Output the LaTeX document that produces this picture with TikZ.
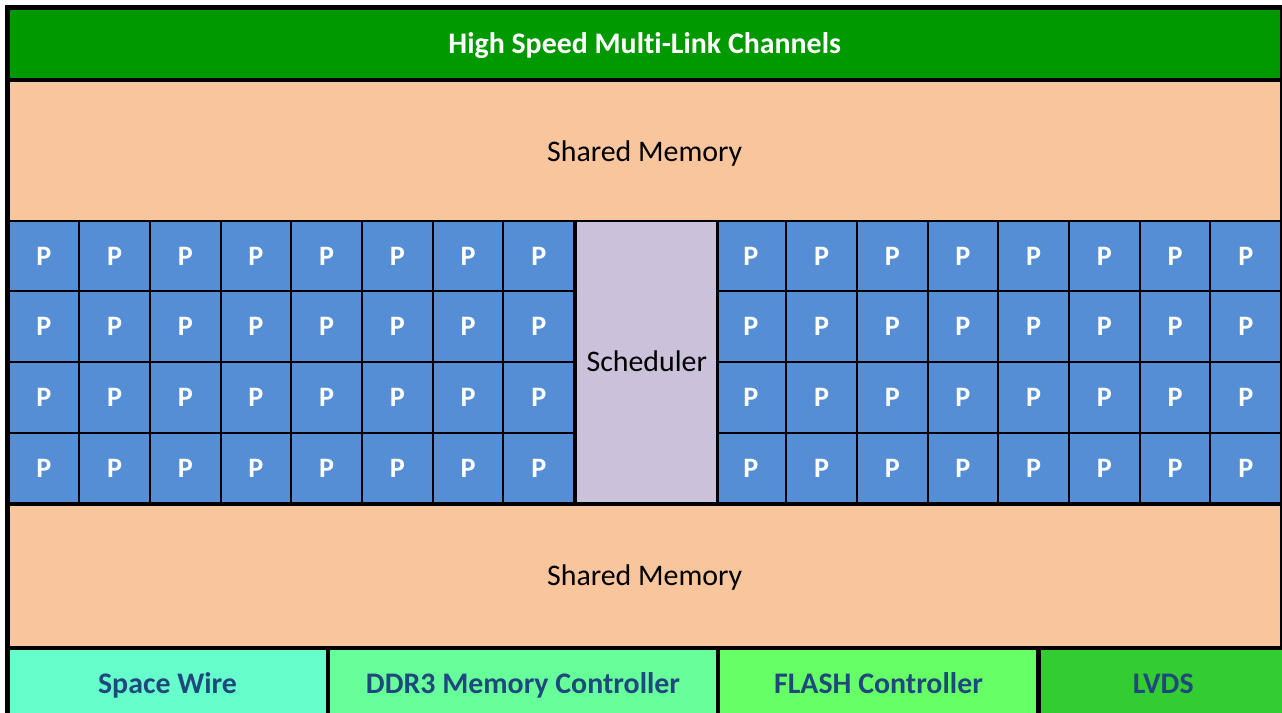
\documentclass[tikz,border=0pt]{standalone}
\usepackage{fontspec}
\setmainfont{Carlito}[Ligatures=NoCommon]
\usetikzlibrary{positioning}
\definecolor{chgreen}{HTML}{009900}
\definecolor{mempeach}{HTML}{F8C59C}
\definecolor{pblue}{HTML}{558ED5}
\definecolor{schedgray}{HTML}{CCC1DA}
\definecolor{swcyan}{HTML}{66FFCC}
\definecolor{ddrgreen}{HTML}{66FF99}
\definecolor{flashgreen}{HTML}{66FF66}
\definecolor{lvdsgreen}{HTML}{33CC33}
\definecolor{labelblue}{HTML}{1F497D}

\begin{document}
\begin{tikzpicture}[x=0.02cm, y=-0.02cm,
block/.style={draw=black, line width=1.15pt, inner sep=0pt, anchor=north west,
  text height=10.9pt, text depth=0pt},
pcell/.style={block, fill=pblue, minimum width=1.414cm, minimum height=1.414cm,
  text=white, font=\bfseries\fontsize{16}{18}\selectfont, text height=10.4pt},
memblock/.style={block, fill=mempeach, minimum width=25.452cm, minimum height=2.828cm,
  font=\fontsize{17}{20}\selectfont},
iobox/.style={block, anchor=west, minimum height=1.414cm, text=labelblue,
  font=\bfseries\fontsize{17}{20}\selectfont},
frame/.style={draw=black, line width=2.85pt},
]
\useasboundingbox (0,0) rectangle (1282,713);
\fill[white] (0,0) rectangle (1282,713);
\clip (0,0) rectangle (1282,713);

%Top
\node[block, fill=chgreen, minimum width=25.452cm, minimum height=1.414cm, text=white,
  font=\bfseries\fontsize{17}{20}\selectfont] (hsmlc) at (7.5,7.5) {High Speed Multi-Link Channels};
\node[memblock] (memtop) at (hsmlc.south west) {Shared Memory};

%Processors
\foreach \r in {0,...,3}{
  \foreach \c in {0,...,7}{
    \node[pcell] (pl-\r-\c) at (7.5+\c*70.7, 219.6+\r*70.7) {P};
    \node[pcell] (pr-\r-\c) at (714.5+\c*70.7, 219.6+\r*70.7) {P};
  }
}
\node[block, fill=schedgray, minimum width=2.828cm, minimum height=5.656cm,
  font=\fontsize{17}{20}\selectfont] (sched) at (pl-0-7.north east) {Scheduler};

%Bottom
\node[memblock] (membot) at (pl-3-0.south west) {Shared Memory};
\node[iobox, fill=swcyan, minimum width=6.363cm, anchor=north west] (spw) at (membot.south west) {Space Wire};
\node[iobox, fill=ddrgreen, minimum width=7.777cm] (ddr) [right=0pt of spw] {DDR3 Memory Controller};
\node[iobox, fill=flashgreen, minimum width=6.363cm] (flash) [right=0pt of ddr] {FLASH Controller};
\node[iobox, fill=lvdsgreen, minimum width=4.949cm] (lvds) [right=0pt of flash] {LVDS};

%Frame
\draw[frame] (hsmlc.north west) rectangle ([shift={(0,6)}]lvds.south east);
\end{tikzpicture}
\end{document}
